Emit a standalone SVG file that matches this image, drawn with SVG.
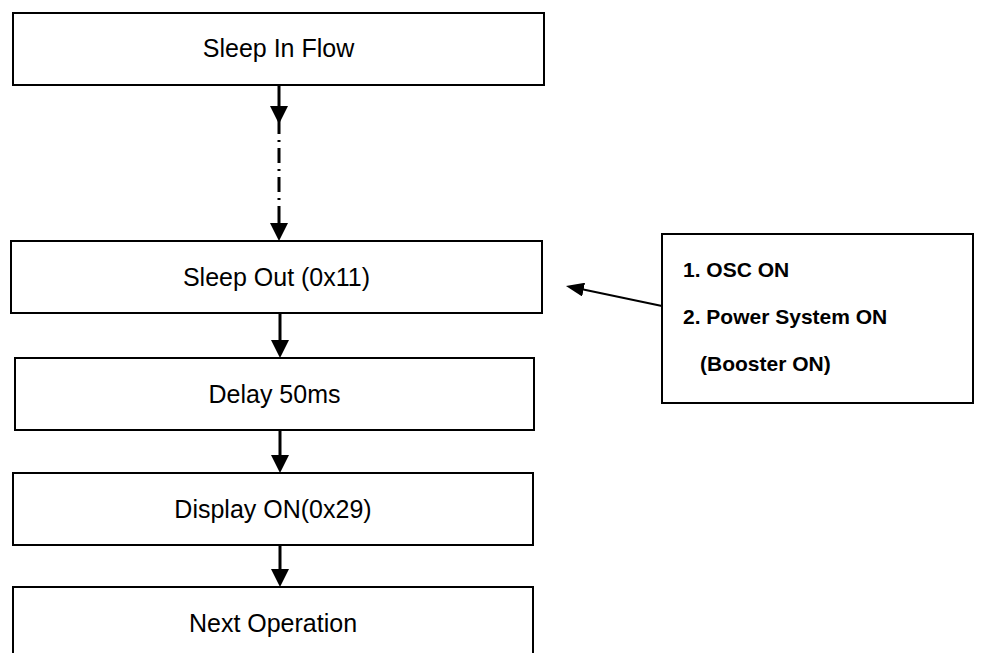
<svg xmlns="http://www.w3.org/2000/svg" width="981" height="653" viewBox="0 0 981 653">
  <style>
    .box { fill: #ffffff; stroke: #000000; stroke-width: 2; }
    .lbl { font-family: "Liberation Sans", Arial, sans-serif; font-size: 25px; fill: #000000; text-anchor: middle; }
    .note { font-family: "Liberation Sans", Arial, sans-serif; font-size: 21px; font-weight: bold; fill: #000000; }
    .conn { stroke: #000000; stroke-width: 3; fill: none; }
    .dashdot { stroke-dasharray: 15 6 2 6; }
  </style>
  <defs>
    <marker id="arrow" markerUnits="userSpaceOnUse" markerWidth="18" markerHeight="18" viewBox="0 0 18 18" refX="10" refY="9" orient="auto">
      <path d="M0,0 L18,9 L0,18 z" fill="#000000"/>
    </marker>
    <marker id="arrowSmall" markerUnits="userSpaceOnUse" markerWidth="18" markerHeight="14" viewBox="0 0 18 14" refX="10" refY="7" orient="auto">
      <path d="M0,0 L18,7 L0,14 z" fill="#000000"/>
    </marker>
  </defs>

  <g id="connectors">
    <line class="conn" x1="279" y1="85" x2="279" y2="116" marker-end="url(#arrow)"/>
    <line class="conn dashdot" x1="279" y1="119" x2="279" y2="222"/>
    <line class="conn" x1="279" y1="221" x2="279" y2="233" marker-end="url(#arrow)"/>
    <line class="conn" x1="280" y1="313" x2="280" y2="350" marker-end="url(#arrow)"/>
    <line class="conn" x1="280" y1="430" x2="280" y2="465" marker-end="url(#arrow)"/>
    <line class="conn" x1="280" y1="545" x2="280" y2="579" marker-end="url(#arrow)"/>
    <line class="conn" style="stroke-width:2" x1="662" y1="306" x2="573.8" y2="287.6" marker-end="url(#arrowSmall)"/>
  </g>

  <g id="sleep-in-flow">
    <rect class="box" x="13" y="13" width="531" height="72"/>
    <text class="lbl" x="278.5" y="57">Sleep In Flow</text>
  </g>
  <g id="sleep-out">
    <rect class="box" x="11" y="241" width="531" height="72"/>
    <text class="lbl" x="276.5" y="286">Sleep Out (0x11)</text>
  </g>
  <g id="delay">
    <rect class="box" x="15" y="358" width="519" height="72"/>
    <text class="lbl" x="274.5" y="403">Delay 50ms</text>
  </g>
  <g id="display-on">
    <rect class="box" x="13" y="473" width="520" height="72"/>
    <text class="lbl" x="273" y="518">Display ON(0x29)</text>
  </g>
  <g id="next-operation">
    <rect class="box" x="13" y="587" width="520" height="75"/>
    <text class="lbl" x="273" y="632">Next Operation</text>
  </g>
  <g id="note">
    <rect class="box" x="662" y="234" width="311" height="169"/>
    <text class="note" x="683" y="277">1. OSC ON</text>
    <text class="note" x="683" y="324">2. Power System ON</text>
    <text class="note" x="700" y="371">(Booster ON)</text>
  </g>
</svg>
